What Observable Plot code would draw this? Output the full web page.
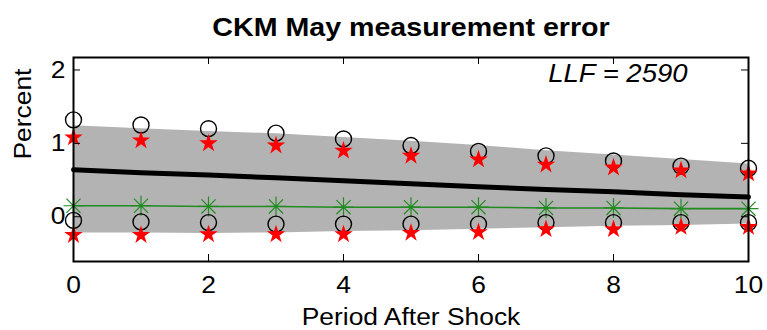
<!DOCTYPE html>
<html>
<head>
<meta charset="utf-8">
<script src="https://cdn.jsdelivr.net/npm/d3@7"></script>
<script src="https://cdn.jsdelivr.net/npm/@observablehq/plot@0.6"></script>
<style>
  html, body { margin: 0; padding: 0; background: #fff; }
  svg { display: block; }
</style>
</head>
<body>
<div id="chart"></div>
<script>
const period      = [0, 1, 2, 3, 4, 5, 6, 7, 8, 9, 10];
const bandUpper   = [1.24, 1.20, 1.16, 1.13, 1.08, 1.03, 0.97, 0.90, 0.84, 0.78, 0.72];
const bandLower   = [-0.22, -0.22, -0.23, -0.22, -0.20, -0.19, -0.17, -0.15, -0.13, -0.12, -0.10];
const median      = [0.64, 0.60, 0.57, 0.53, 0.49, 0.45, 0.41, 0.37, 0.34, 0.30, 0.27];
const greenLine   = [0.15, 0.15, 0.14, 0.14, 0.13, 0.13, 0.13, 0.12, 0.12, 0.11, 0.11];
const upperCircle = [1.32, 1.25, 1.20, 1.14, 1.06, 0.97, 0.89, 0.83, 0.76, 0.69, 0.66];
const upperStar   = [1.08, 1.04, 1.00, 0.97, 0.90, 0.83, 0.78, 0.71, 0.67, 0.63, 0.59];
const lowerCircle = [-0.05, -0.07, -0.08, -0.10, -0.10, -0.10, -0.10, -0.08, -0.08, -0.08, -0.08];
const lowerStar   = [-0.25, -0.25, -0.24, -0.24, -0.24, -0.22, -0.21, -0.17, -0.17, -0.14, -0.14];
const xTicks = [0, 2, 4, 6, 8, 10];
const yTicks = [0, 1, 2];
const titleText = "CKM May measurement error";
const xLabel = "Period After Shock";
const yLabel = "Percent";
const llfText = "LLF = 2590";

const rows = period.map((p, i) => ({
  period: p, lo: bandLower[i], hi: bandUpper[i], med: median[i], green: greenLine[i],
  uc: upperCircle[i], us: upperStar[i], lc: lowerCircle[i], ls: lowerStar[i]
}));

const asterisk = {
  draw(context, size) {
    const r = Math.sqrt(size / Math.PI);
    for (let k = 0; k < 4; k++) {
      const a = k * Math.PI / 4;
      const c = Math.cos(a) * r, s = Math.sin(a) * r;
      context.moveTo(-c, -s);
      context.lineTo(c, s);
    }
  }
};

const W = 767, H = 330;
const mL = 73, mR = 19, mT = 57, mB = 69;
const fw = W - mL - mR, fh = H - mT - mB;
const tick = 7;
const font = "'Liberation Sans', Arial, Helvetica, sans-serif";

const chart = Plot.plot({
  width: W, height: H,
  marginLeft: mL, marginRight: mR, marginTop: mT, marginBottom: mB,
  style: { fontFamily: font, background: "#fff", color: "#000" },
  x: { domain: [0, 10], ticks: xTicks },
  y: { domain: [-0.61, 2.17], ticks: yTicks },
  marks: [
    Plot.areaY(rows, { x: "period", y1: "lo", y2: "hi", fill: "#b3b3b3" }),
    Plot.line(rows, { x: "period", y: "med", stroke: "black", strokeWidth: 5 }),
    Plot.line(rows, { x: "period", y: "green", stroke: "#228B22", strokeWidth: 1.6 }),
    Plot.dot(rows, { x: "period", y: "green", symbol: asterisk, r: 10, stroke: "#228B22", fill: "none", strokeWidth: 1.2 }),
    Plot.dot(rows, { x: "period", y: "uc", r: 8, stroke: "black", fill: "none", strokeWidth: 1.4 }),
    Plot.dot(rows, { x: "period", y: "lc", r: 8, stroke: "black", fill: "none", strokeWidth: 1.4 }),
    Plot.dot(rows, { x: "period", y: "us", symbol: "star", r: 5.8, fill: "red", stroke: "none" }),
    Plot.dot(rows, { x: "period", y: "ls", symbol: "star", r: 5.8, fill: "red", stroke: "none" }),
    // inward ticks on all four sides
    Plot.ruleX(xTicks, { x: d => d, insetTop: fh - tick, stroke: "black", strokeWidth: 1 }),
    Plot.ruleX(xTicks, { x: d => d, insetBottom: fh - tick, stroke: "black", strokeWidth: 1 }),
    Plot.ruleY(yTicks, { y: d => d, insetRight: fw - tick, stroke: "black", strokeWidth: 1 }),
    Plot.ruleY(yTicks, { y: d => d, insetLeft: fw - tick, stroke: "black", strokeWidth: 1 }),
    Plot.frame({ stroke: "black", strokeWidth: 2 }),
    Plot.axisX(xTicks, { tickSize: 0, tickPadding: 14, fontSize: 24, label: null, tickFormat: d => String(d) }),
    Plot.axisY(yTicks, { tickSize: 0, tickPadding: 8, fontSize: 24, label: null, tickFormat: d => String(d) }),
    Plot.text([titleText], { text: d => d, frameAnchor: "top", dy: -30, fontSize: 26, fontWeight: "bold", lineAnchor: "middle" }),
    Plot.text([xLabel], { text: d => d, frameAnchor: "bottom", dy: 56, fontSize: 24, lineAnchor: "middle" }),
    Plot.text([yLabel], { text: d => d, frameAnchor: "left", dx: -50, rotate: -90, fontSize: 24, lineAnchor: "middle" }),
    Plot.text([llfText], { text: d => d, frameAnchor: "top-right", dx: -61, dy: 16, textAnchor: "end", fontSize: 25, fontStyle: "italic", lineAnchor: "middle" })
  ]
});
// widen glyphs horizontally (reference font is wider than Liberation Sans)
chart.querySelectorAll("text").forEach(t => {
  const tr = t.getAttribute("transform");
  if (tr && tr.includes("translate")) t.setAttribute("transform", tr + " scale(1.1,1)");
});
document.getElementById("chart").appendChild(chart);
</script>
</body>
</html>
